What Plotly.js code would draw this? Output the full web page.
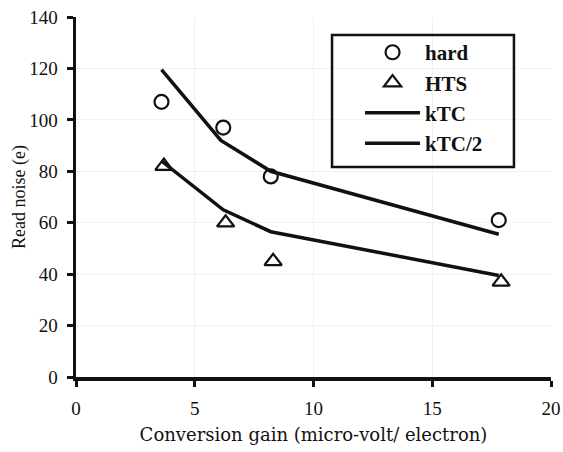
<!DOCTYPE html>
<html>
<head>
<meta charset="utf-8">
<script src="https://cdn.plot.ly/plotly-3.0.1.min.js"></script>
<style>html,body{margin:0;padding:0;background:#fff;}#chart{width:563px;height:452px;}</style>
</head>
<body>
<div id="chart"></div>
<script>
// Data
const gainHard = [3.6, 6.2, 8.2, 17.8];
const noiseHard = [107, 97, 78, 61];
const gainHTS = [3.7, 6.3, 8.3, 17.9];
const noiseHTS = [82, 60, 45, 37];
const gainKTC = [3.6, 6.1, 8.2, 17.8];
const noiseKTC = [119.5, 92, 80, 55.5];
const gainKTC2 = [3.6, 6.2, 8.2, 17.8];
const noiseKTC2 = [84, 65, 56.5, 39.5];
const xTicks = [0, 5, 10, 15, 20];
const yTicks = [0, 20, 40, 60, 80, 100, 120, 140];

const serif = "Liberation Serif, DejaVu Serif, serif";
const wideSerif = "DejaVu Serif, Liberation Serif, serif";

const traces = [
  {x: gainHard, y: noiseHard, name: 'hard', mode: 'markers', legendgroup: 'a',
   marker: {symbol: 'circle-open', size: 14, color: '#111', line: {width: 2.2, color: '#111'}}},
  {x: gainHTS, y: noiseHTS, name: 'HTS', mode: 'markers', legendgroup: 'b',
   marker: {symbol: 'triangle-up-open', size: 15, color: '#111', line: {width: 2.2, color: '#111'}}},
  {x: gainKTC, y: noiseKTC, name: 'kTC', mode: 'lines', legendgroup: 'c',
   line: {color: '#111', width: 3.5}},
  {x: gainKTC2, y: noiseKTC2, name: 'kTC/2', mode: 'lines', legendgroup: 'd',
   line: {color: '#111', width: 3.5}}
];

const layout = {
  width: 563, height: 452,
  margin: {l: 76, r: 12, t: 17, b: 75},
  paper_bgcolor: '#fff', plot_bgcolor: '#fff',
  font: {family: serif, color: '#111', size: 18},
  showlegend: true,
  legend: {
    x: 0.598, y: 0.958, xanchor: 'left', yanchor: 'top',
    borderwidth: 0, bgcolor: 'rgba(0,0,0,0)',
    font: {family: serif, size: 21, weight: 'bold', color: '#111'},
    itemwidth: 55, tracegroupgap: 5,
    traceorder: 'normal'
  },
  shapes: [
    {type: 'rect', xref: 'paper', yref: 'paper', x0: 0.539, x1: 0.922, y0: 0.583, y1: 0.95,
     line: {color: '#111', width: 2.5}, fillcolor: 'rgba(0,0,0,0)', layer: 'above'}
  ],
  xaxis: {
    range: [0, 20], tickvals: xTicks, ticktext: xTicks.map(String),
    showline: true, linecolor: '#111', linewidth: 3.5,
    ticks: 'outside', ticklen: 6, tickwidth: 3, tickcolor: '#111',
    ticklabelstandoff: 6,
    showgrid: true, gridcolor: '#f1f1f1', gridwidth: 1, zeroline: false,
    tickfont: {family: serif, size: 19},
    title: {text: 'Conversion gain (micro-volt/ electron)', font: {family: wideSerif, size: 18}, standoff: 11}
  },
  yaxis: {
    range: [0, 140], tickvals: yTicks, ticktext: yTicks.map(String),
    showline: true, linecolor: '#111', linewidth: 3.5,
    ticks: 'outside', ticklen: 6, tickwidth: 3, tickcolor: '#111',
    ticklabelstandoff: 5,
    showgrid: true, gridcolor: '#f1f1f1', gridwidth: 1, zeroline: false,
    tickfont: {family: serif, size: 19},
    title: {text: 'Read noise (e)', font: {family: serif, size: 18}, standoff: 0}
  }
};

Plotly.newPlot('chart', traces, layout, {displayModeBar: false, staticPlot: true});
</script>
</body>
</html>
